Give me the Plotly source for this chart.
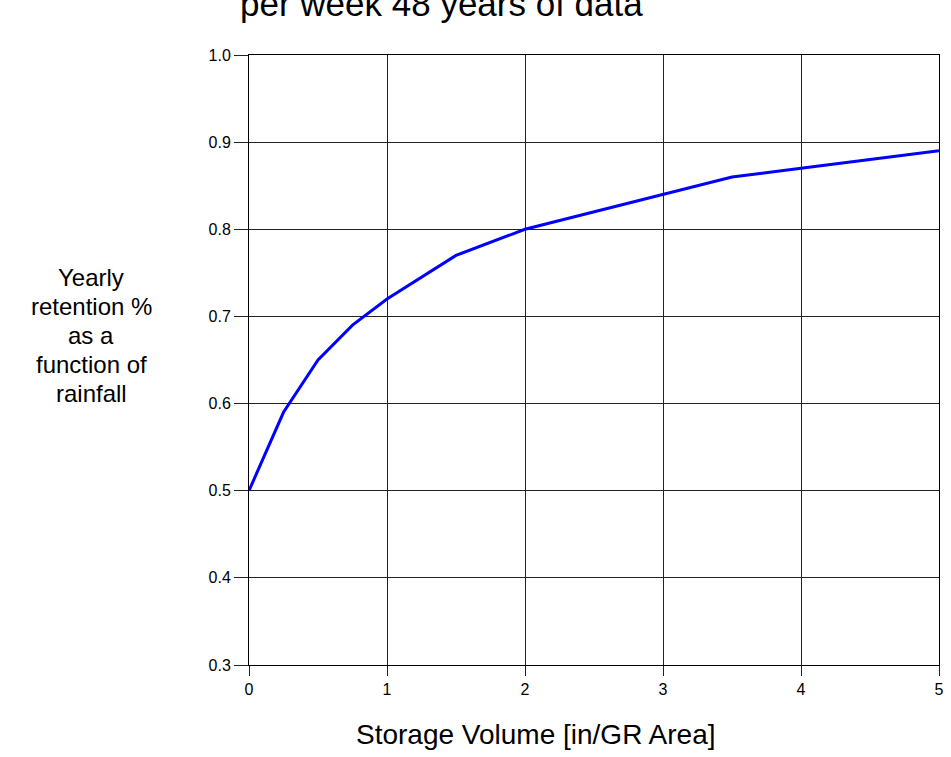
import plotly.graph_objects as go

storage_volume = [0, 0.25, 0.5, 0.75, 1.0, 1.5, 2.0, 3.0, 3.5, 4.0, 5.0]
retention = [0.50, 0.59, 0.65, 0.69, 0.72, 0.77, 0.80, 0.84, 0.86, 0.87, 0.89]

x_ticks = [0, 1, 2, 3, 4, 5]
y_ticks = [0.3, 0.4, 0.5, 0.6, 0.7, 0.8, 0.9, 1.0]
y_tick_labels = ["0.3", "0.4", "0.5", "0.6", "0.7", "0.8", "0.9", "1.0"]

title_text = "per week 48 years of data"
x_title = "Storage Volume [in/GR Area]"
y_title_lines = ["Yearly", "retention %", "as a", "function of", "rainfall"]

W, H = 951, 757
L, R, T, B = 249, 7, 55, 92
plot_h = H - T - B
plot_w = W - L - R

fig = go.Figure()
fig.add_trace(go.Scatter(
    x=storage_volume, y=retention, mode="lines",
    line=dict(color="#0000FF", width=3), showlegend=False, hoverinfo="skip"))

font = "Arial, Liberation Sans, sans-serif"

fig.update_layout(
    width=W, height=H,
    margin=dict(l=L, r=R, t=T, b=B, pad=0),
    paper_bgcolor="white", plot_bgcolor="white",
    font=dict(family=font, color="black"),
    xaxis=dict(range=[0, 5], tickvals=x_ticks, ticktext=[str(v) for v in x_ticks],
               showgrid=True, gridcolor="#222222", gridwidth=1,
               showline=True, linecolor="black", linewidth=1, mirror=True,
               ticks="outside", ticklen=10, tickcolor="#222222",
               tickfont=dict(size=16, family=font), zeroline=False),
    yaxis=dict(range=[0.3, 1.0], tickvals=y_ticks, ticktext=y_tick_labels,
               showgrid=True, gridcolor="#222222", gridwidth=1,
               showline=True, linecolor="black", linewidth=1, mirror=True,
               ticks="outside", ticklen=14, tickcolor="#222222",
               tickfont=dict(size=16, family=font), zeroline=False),
)

def px_to_paper_x(px):
    return (px - L) / plot_w

def px_to_paper_y(py):
    return (H - B - py) / plot_h

# Title (cut off at top in reference)
fig.add_annotation(text=title_text, xref="paper", yref="paper",
                   x=px_to_paper_x(443), y=px_to_paper_y(25), xanchor="center", yanchor="bottom",
                   showarrow=False, font=dict(size=35, family=font, color="black"))

# X title
fig.add_annotation(text=x_title, xref="paper", yref="paper",
                   x=px_to_paper_x(538), y=px_to_paper_y(735), xanchor="center", yanchor="middle",
                   showarrow=False, font=dict(size=28, family=font, color="black"))

# Y title, one annotation per line
for i, line in enumerate(y_title_lines):
    fig.add_annotation(text=line, xref="paper", yref="paper",
                       x=px_to_paper_x(90), y=px_to_paper_y(277.5 + 29 * i),
                       xanchor="center", yanchor="middle",
                       showarrow=False, font=dict(size=24, family=font, color="black"))

fig.write_html("out.html",
               config={"displayModeBar": False, "staticPlot": True},
               post_script="document.body.style.margin='0';document.body.style.overflow='hidden';")
